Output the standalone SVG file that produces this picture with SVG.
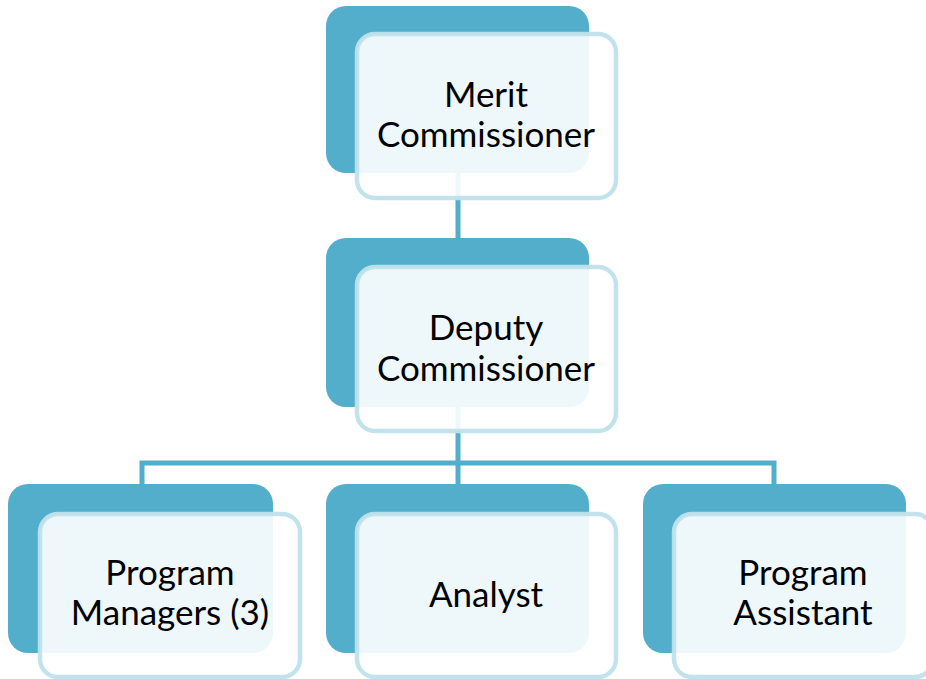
<svg xmlns="http://www.w3.org/2000/svg" width="926" height="679" viewBox="0 0 926 679">
<style>
.dark{fill:#52AECA;}
.light{fill:#FFFFFF;fill-opacity:0.9;stroke:#BFE1EB;stroke-opacity:0.95;stroke-width:4.5;}
.lbl{font-family:Lato,"Open Sans","Liberation Sans",sans-serif;font-size:35px;fill:#000;text-anchor:middle;}
.conn{stroke:#52AECA;stroke-width:5;fill:none;}
</style>
<rect width="926" height="679" fill="#FFFFFF"/>
<g id="connectors">
<line class="conn" x1="458" y1="170" x2="458" y2="240"/>
<line class="conn" x1="458" y1="400" x2="458" y2="487"/>
<polyline class="conn" points="142,487 142,463 774,463 774,487"/>
</g>
<g id="merit">
<rect class="dark" x="326" y="6" width="263" height="167" rx="20"/>
<rect class="light" x="357" y="34" width="259" height="164" rx="18"/>
<text class="lbl" x="486" y="107">Merit</text>
<text class="lbl" x="486" y="147">Commissioner</text>
</g>
<g id="deputy">
<rect class="dark" x="326" y="238" width="263" height="169" rx="20"/>
<rect class="light" x="357" y="267" width="259" height="164" rx="18"/>
<text class="lbl" x="486" y="340">Deputy</text>
<text class="lbl" x="486" y="381">Commissioner</text>
</g>
<g id="program-managers">
<rect class="dark" x="8" y="484" width="265" height="169" rx="20"/>
<rect class="light" x="40" y="514" width="260" height="163" rx="18"/>
<text class="lbl" x="170" y="585">Program</text>
<text class="lbl" x="170" y="625">Managers (3)</text>
</g>
<g id="analyst">
<rect class="dark" x="326" y="484" width="263" height="169" rx="20"/>
<rect class="light" x="357" y="514" width="259" height="163" rx="18"/>
<text class="lbl" x="486" y="607">Analyst</text>
</g>
<g id="program-assistant">
<rect class="dark" x="643" y="484" width="263" height="169" rx="20"/>
<rect class="light" x="674" y="514" width="259" height="163" rx="18"/>
<text class="lbl" x="803" y="585">Program</text>
<text class="lbl" x="803" y="625">Assistant</text>
</g>
</svg>
